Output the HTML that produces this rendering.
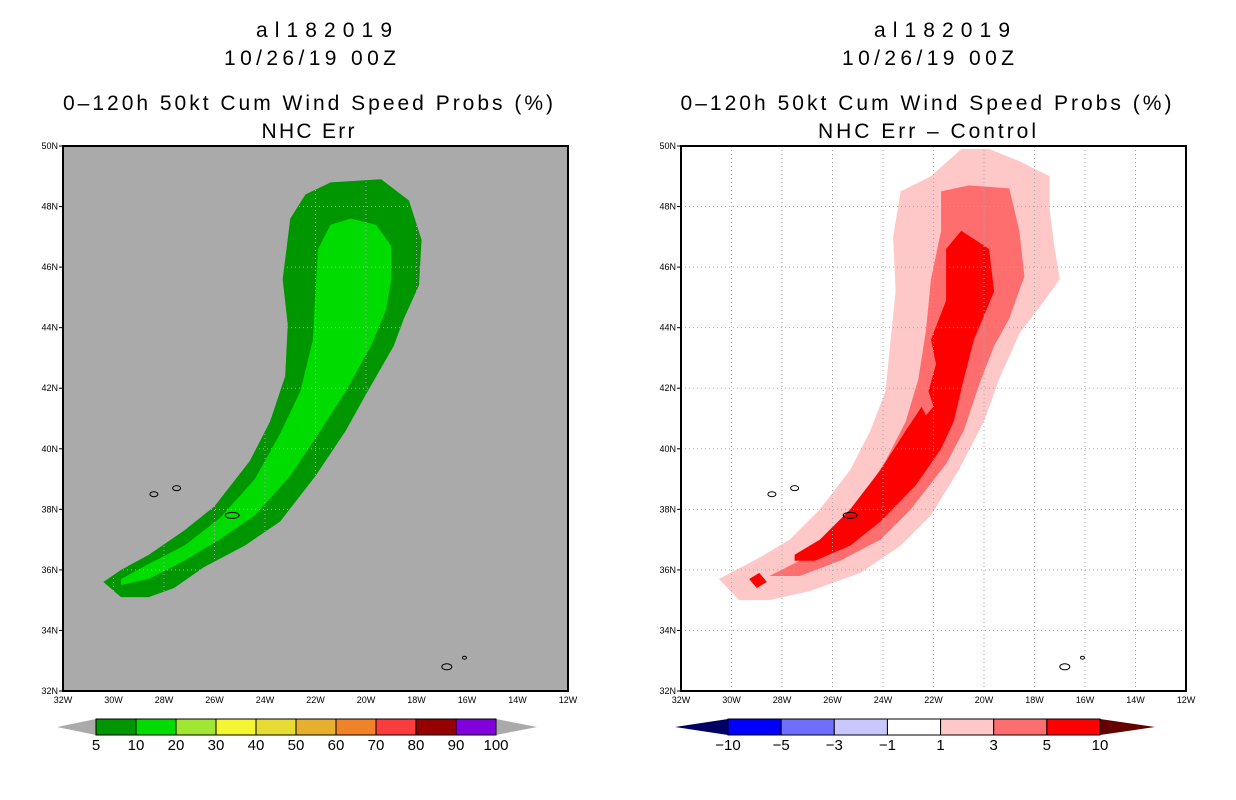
<!DOCTYPE html>
<html><head><meta charset="utf-8"><style>
body{margin:0;background:#fff;width:1236px;height:800px;overflow:hidden}
svg{display:block}
.t{font-family:"Liberation Sans",sans-serif;font-size:21px;text-anchor:middle}
.tk{font-family:"Liberation Sans",sans-serif;font-size:9px}
.cb{font-family:"Liberation Sans",sans-serif;font-size:15px;text-anchor:middle}
</style></head><body>
<svg id="s" width="1236" height="800">
<g>
<text class="t" x="324" y="37" textLength="136" lengthAdjust="spacing">al182019</text><text class="t" x="310" y="65" textLength="172" lengthAdjust="spacing">10/26/19 00Z</text>
<text class="t" x="308" y="110" textLength="490" lengthAdjust="spacing">0–120h 50kt Cum Wind Speed Probs (%)</text><text class="t" x="308" y="138" textLength="93" lengthAdjust="spacing">NHC Err</text></g>
<g>
<text class="t" x="942" y="37" textLength="136" lengthAdjust="spacing">al182019</text><text class="t" x="928" y="65" textLength="172" lengthAdjust="spacing">10/26/19 00Z</text>
<text class="t" x="926" y="110" textLength="491" lengthAdjust="spacing">0–120h 50kt Cum Wind Speed Probs (%)</text><text class="t" x="927" y="138" textLength="218" lengthAdjust="spacing">NHC Err – Control</text></g>
</svg>
<script>
const NS="http://www.w3.org/2000/svg";
const svg=document.getElementById('s');
const lonTicks=[32,30,28,26,24,22,20,18,16,14,12];
const latTicks=[32,34,36,38,40,42,44,46,48,50];
const greenOuter=[[30.4,35.6],[29.7,36.0],[28.6,36.5],[27.2,37.3],[26.0,38.1],[24.6,39.6],[23.8,40.9],[23.2,42.4],[23.1,44.1],[23.3,45.6],[23.0,47.6],[22.4,48.4],[21.4,48.8],[19.4,48.9],[18.3,48.2],[17.8,46.9],[17.9,45.4],[18.5,44.3],[18.9,43.4],[20.0,41.8],[20.8,40.6],[22.0,39.1],[23.4,37.6],[24.8,36.8],[26.4,36.1],[27.6,35.4],[28.6,35.1],[29.7,35.1]];
const greenInner=[[29.7,35.7],[28.6,36.2],[27.2,36.8],[25.8,37.7],[24.4,39.0],[23.4,40.5],[22.6,41.9],[22.1,43.6],[22.0,45.2],[21.9,46.6],[21.4,47.4],[20.6,47.6],[19.6,47.4],[19.0,46.7],[19.0,45.6],[19.2,44.6],[19.8,43.4],[20.8,41.9],[21.8,40.6],[23.0,39.1],[24.4,37.8],[25.8,37.0],[27.2,36.3],[28.6,35.7],[29.7,35.5]];
const diff1=[[30.5,35.7],[28.9,36.4],[27.7,37.0],[26.5,38.0],[25.3,39.3],[24.5,40.6],[23.9,41.9],[23.7,43.6],[23.5,45.2],[23.6,47.0],[23.3,48.5],[22.1,49.0],[20.9,49.9],[19.8,49.9],[18.6,49.5],[17.4,49.0],[17.4,47.9],[17.2,46.6],[17.0,45.6],[17.6,44.9],[18.6,43.8],[19.4,42.3],[20.0,40.9],[21.0,39.3],[22.1,37.8],[23.3,36.8],[24.9,35.9],[26.9,35.3],[28.5,35.0],[29.7,35.0]];
const diff3=[[28.5,35.8],[27.3,36.3],[26.1,37.1],[24.9,38.3],[23.9,39.6],[23.1,40.9],[22.6,42.3],[22.3,43.9],[22.1,45.6],[21.7,47.2],[21.7,48.5],[20.6,48.7],[19.0,48.6],[18.6,47.2],[18.4,45.7],[19.0,44.3],[19.6,43.4],[20.2,42.1],[20.8,40.6],[21.5,39.5],[22.9,38.0],[24.1,37.0],[25.7,36.3],[27.3,35.8]];
const diff5=[[27.5,36.5],[26.5,37.0],[25.3,38.0],[24.1,39.3],[23.1,40.6],[22.3,41.6],[21.9,42.8],[22.1,43.6],[21.5,44.9],[21.5,46.6],[20.9,47.2],[19.8,46.6],[19.6,45.2],[20.4,43.6],[20.8,42.3],[21.2,40.9],[21.7,40.0],[22.7,38.8],[24.1,37.6],[25.3,36.8],[26.7,36.3],[27.5,36.3]];
const diff5b=[[29.3,35.7],[28.9,35.9],[28.6,35.6],[29.0,35.4]];
const diff3hole=[[22.6,41.6],[22.2,41.9],[22.0,41.4],[22.3,41.1]];
const islands=[[28.4,38.5,4,2.5],[27.5,38.7,4,2.5],[25.3,37.8,7,3],[16.8,32.8,5,3],[16.1,33.1,2,1.5]];
const greenLevels=['5','10','20','30','40','50','60','70','80','90','100'];
const greenColors=['#009600','#00dc00','#a0e632','#f5f532','#e6dc32','#e6af2d','#f08228','#fa3c3c','#960000','#8200dc'];
const diffLevels=['−10','−5','−3','−1','1','3','5','10'];
const diffColors=['#0000ff','#6e6eff','#c8c8ff','#ffffff','#ffc8c8','#ff6e6e','#ff0000'];
function el(t,a,p){const e=document.createElementNS(NS,t);for(const k in a)e.setAttribute(k,a[k]);(p||svg).appendChild(e);return e;}
function panel(x0,name){
 const W=505,H=545,y0=146;
 const X=l=>x0+(32-l)/20*W, Y=la=>y0+H-(la-32)/18*H;
 const g=el('g',{});
 
 
 const poly=(pts,fill,nm)=>{const p=el('polygon',{points:pts.map(q=>X(q[0])+','+Y(q[1])).join(' '),fill:fill},g);};
 return {g,X,Y,W,H,y0,poly};
}
function axes(P){
 const {g,X,Y,W,H,y0}=P;
 lonTicks.forEach(l=>{ if(l!==32&&l!==12) el('line',{x1:X(l),x2:X(l),y1:y0,y2:y0+H,stroke:'#aaa','stroke-dasharray':'1 3'},g);
  const t=el('text',{x:X(l),y:y0+H+12,class:'tk','text-anchor':'middle'},g);t.textContent=l+'W';
  
  });
 latTicks.forEach(l=>{ if(l!==32&&l!==50) el('line',{x1:X(32),x2:X(12),y1:Y(l),y2:Y(l),stroke:'#aaa','stroke-dasharray':'1 3'},g);
  el('line',{x1:X(32)-4,x2:X(32),y1:Y(l),y2:Y(l),stroke:'#000'},g);
  const t=el('text',{x:X(32)-5,y:Y(l)+3,class:'tk','text-anchor':'end'},g);t.textContent=l+'N';
  
  });
 islands.forEach(i=>{const e=el('ellipse',{cx:X(i[0]),cy:Y(i[1]),rx:i[2],ry:i[3],fill:'none',stroke:'#000','stroke-width':1},g);
  
  });
 const r=el('rect',{x:X(32),y:y0,width:W,height:H,fill:'none',stroke:'#000','stroke-width':2},g);
 
 
}
const L=panel(63,'left-map');
el('rect',{x:63,y:146,width:505,height:545,fill:'#aaaaaa'},L.g);
L.poly(greenOuter,'#009600','prob-5-10-contour');
L.poly(greenInner,'#00dc00','prob-10-20-contour');
axes(L);
const R=panel(681,'right-map');
el('rect',{x:681,y:146,width:505,height:545,fill:'#ffffff'},R.g);
R.poly(diff1,'#ffc8c8','diff-1-3-contour');
R.poly(diff3,'#ff6e6e','diff-3-5-contour');
R.poly(diff5,'#ff0000','diff-5-10-contour');
R.poly(diff5b,'#ff0000','diff-5-10-small');
R.poly(diff3hole,'#ff6e6e','diff-3-5-hole');
axes(R);
function colorbar(x0,x1,tipL,tipR,colors,labels,lc,rc,name){
 const g=el('g',{});
 
 
 const y=719,h=16,w=(x1-x0)/colors.length;
 el('polygon',{points:`${tipL},${y+h/2} ${x0},${y} ${x0},${y+h}`,fill:lc},g);
 el('polygon',{points:`${tipR},${y+h/2} ${x1},${y} ${x1},${y+h}`,fill:rc},g);
 colors.forEach((c,i)=>{const r=el('rect',{x:x0+i*w,y:y,width:w,height:h,fill:c,stroke:'#000','stroke-width':1},g);
  
  });
 labels.forEach((t,i)=>{const e=el('text',{x:x0+i*w,y:y+h+15,class:'cb'},g);e.textContent=t;
  
  });
}
colorbar(96,496,57,537,greenColors,greenLevels,'#aaaaaa','#aaaaaa','left-colorbar');
colorbar(728,1100,675,1155,diffColors,diffLevels,'#000064','#640000','right-colorbar');
</script>
</body></html>
